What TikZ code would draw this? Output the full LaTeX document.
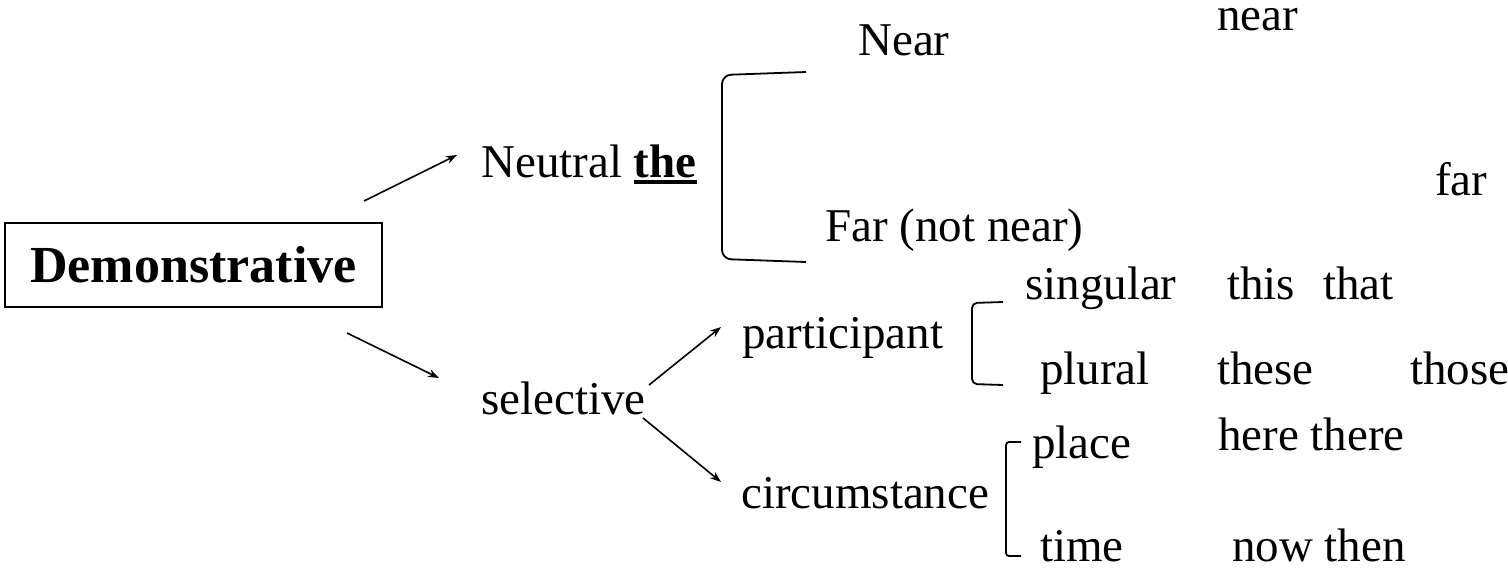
\documentclass[tikz,border=0pt]{standalone}
\usepackage{fontspec}
\setmainfont{Liberation Serif}
\usetikzlibrary{arrows.meta}
\newcommand\thickul[1]{\setbox0\hbox{#1}\rlap{\rule[-7pt]{\wd0}{4pt}}\box0}
\begin{document}
\begin{tikzpicture}[x=1pt,y=-1pt,
  lbl/.style={anchor=base west,inner sep=0pt,font=\fontsize{47}{50}\selectfont},
  arr/.style={-{Stealth[length=11pt,width=8pt]},line width=1.6pt},
  brk/.style={line width=1.8pt,rounded corners=#1},
  brk/.default=6pt]
\useasboundingbox (0,0) rectangle (1508,570);
% main box
\node[draw, line width=1.8pt, minimum width=377pt, minimum height=84pt, inner sep=0pt,
      font=\fontsize{52}{56}\selectfont\bfseries] (demo) at (193.5,265) {Demonstrative};
% labels
\node[lbl] (neutral) at (481,177) {Neutral \thickul{\textbf{the}}};
\node[lbl] (Near) at (858,55) {Near};
\node[lbl] (nearw) at (1217,30) {near};
\node[lbl] (farw) at (1435,195) {far};
\node[lbl] (Far) at (825,241) {Far (not near)};
\node[lbl] (singular) at (1025,299) {singular};
\node[lbl] (this) at (1227,299) {this};
\node[lbl] (that) at (1323,299) {that};
\node[lbl] (participant) at (742,348) {participant};
\node[lbl] (plural) at (1040,384) {plural};
\node[lbl] (these) at (1217,384) {these};
\node[lbl] (those) at (1410,384) {those};
\node[lbl] (selective) at (481,414) {selective};
\node[lbl] (place) at (1032,458) {place};
\node[lbl] (herethere) at (1218,450) {here there};
\node[lbl] (circ) at (741,508) {circumstance};
\node[lbl] (time) at (1040,561) {time};
\node[lbl] (nowthen) at (1232,561) {now then};
% arrow end points
\coordinate (a1s) at (364,201); \coordinate (a1e) at (457,155);
\coordinate (a2s) at (347,333); \coordinate (a2e) at (439,378);
\coordinate (a3s) at (649,385); \coordinate (a3e) at (721,327);
\coordinate (a4s) at (643,418); \coordinate (a4e) at (721,482);
\draw[arr] (a1s) -- (a1e);
\draw[arr] (a2s) -- (a2e);
\draw[arr] (a3s) -- (a3e);
\draw[arr] (a4s) -- (a4e);
% brackets
\draw[brk=9pt] (806,72) -- (722,75) -- (722,259) -- (806,262);
\draw[brk=5pt] (1003,302) -- (972,303) -- (972,384) -- (1003,385);
\draw[brk=3pt] (1021,442) -- (1006,442) -- (1006,556) -- (1021,556);
\end{tikzpicture}
\end{document}
